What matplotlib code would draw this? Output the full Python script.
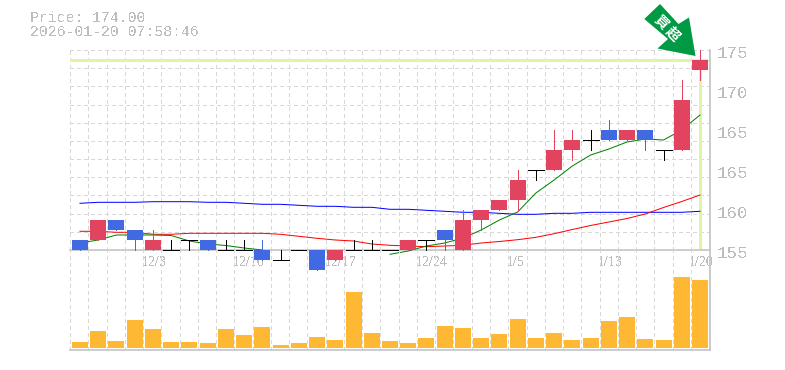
#!/usr/bin/env python3
# -*- coding: utf-8 -*-
import numpy as np
import matplotlib
matplotlib.use('Agg')
import matplotlib.pyplot as plt
from matplotlib.patches import Polygon, Rectangle

plt.rcParams['text.antialiased'] = False

# candles
opens = [156, 156, 158, 157, 155, 155, 156, 156, 155, 155, 155, 154, 155, 155, 154, 155, 155, 155,
         155, 156, 157, 155, 158, 159, 160, 163, 163, 165, 166, 167, 166, 167, 165, 165, 173]
closes = [155, 158, 157, 156, 156, 155, 156, 155, 155, 155, 154, 154, 155, 153, 155, 155, 155, 155,
          156, 156, 156, 158, 159, 160, 162, 163, 165, 166, 166, 166, 167, 166, 165, 170, 174]
highs = [156, 158, 158, 157, 157, 156, 156, 156, 156, 156, 156, 155, 155, 155, 155, 156, 156, 155,
         156, 156, 157, 159, 159, 160, 163, 163, 167, 167, 167, 168, 167, 167, 165, 172, 175]
lows = [155, 156, 157, 155, 155, 155, 155, 155, 155, 155, 154, 154, 155, 153, 154, 155, 155, 155,
        155, 155, 155, 155, 157, 159, 159, 162, 163, 164, 165, 166, 166, 165, 164, 165, 172]
volumes = [6, 17, 7, 28, 19, 6, 6, 5, 19, 13, 21, 3, 5, 11, 8, 56, 15, 7,
           5, 10, 22, 20, 10, 14, 29, 10, 15, 8, 10, 27, 31, 9, 8, 71, 68]

ma_short = [155.7, 156.0, 156.5, 156.5, 156.5, 156.45, 155.9, 155.6, 155.45, 155.2, 155.0,
            np.nan, np.nan, np.nan, np.nan, np.nan, np.nan,
            154.57, 154.9, 155.4, 155.7, 156.2, 157.0, 158.0, 158.8, 160.7, 162.0, 163.4,
            164.5, 165.1, 165.8, 166.1, 166.0, 167.0, 168.5]
ma_mid = [156.87, 156.87, 156.77, 156.77, 156.57, 156.57, 156.67, 156.67, 156.67, 156.67, 156.67,
          156.57, 156.37, 156.17, 156.0, 155.9, 155.6, 155.47, 155.4, 155.33, 155.4, 155.47,
          155.7, 155.85, 156.03, 156.27, 156.63, 157.05, 157.45, 157.8, 158.15, 158.6,
          159.25, 159.85, 160.5]
ma_long = [159.67, 159.77, 159.77, 159.77, 159.83, 159.83, 159.83, 159.77, 159.77, 159.67, 159.57,
           159.57, 159.47, 159.37, 159.37, 159.27, 159.27, 159.07, 159.07, 158.97, 158.87,
           158.77, 158.77, 158.67, 158.57, 158.57, 158.67, 158.67, 158.77, 158.77, 158.77,
           158.77, 158.77, 158.77, 158.87]

x_labels = ['12/3', '12/10', '12/17', '12/24', '1/5', '1/13', '1/20']
x_label_pos = [4, 9, 14, 19, 24, 29, 34]
y_ticks = [155, 159, 163, 167, 171, 175]
y_labels = ['155', '160', '165', '165', '170', '175']
last_price = 174

W, H = 785, 370
PX = 0.72  # one pixel in points at dpi 100
UP, DOWN, FLAT = '#e2435f', '#4169e1', '#000000'
GRID = '#d8d8d8'
AXIS = '#c4c4c4'
TEXT = '#bdbdbd'
LEVEL = '#e0f5a4'

fig = plt.figure(figsize=(W / 100, H / 100), dpi=100)
ax = fig.add_axes([70 / W, 1 - 250 / H, 640 / W, 200 / H])
axv = fig.add_axes([70 / W, 1 - 350 / H, 640 / W, 100 / H])

x = np.arange(len(closes))
xlim = (-0.548, 34.548)
grid_x = np.arange(36) * 18.26 / 18.235 - 0.548

for a in (ax, axv):
    a.set_xlim(*xlim)
    a.patch.set_alpha(0)
    a.set_xticks(grid_x)
    a.tick_params(length=0, labelbottom=False)
    a.grid(axis='x', color=GRID, lw=PX, ls=(0, (3, 3)), zorder=0, antialiased=False)
    a.set_axisbelow(True)
    for s in a.spines.values():
        s.set_visible(False)
    a.spines['right'].set_visible(True)
    a.spines['right'].set_color(AXIS)
    a.spines['right'].set_linewidth(1.2)
    a.spines['bottom'].set_visible(True)
    a.spines['bottom'].set_color(AXIS)
    a.spines['bottom'].set_linewidth(1.2)

ax.set_ylim(155, 175)
ax.set_yticks(np.linspace(155, 175, 12))
ax.grid(axis='y', color=GRID, lw=PX, ls=(0, (3, 3)), zorder=0, antialiased=False)
ax.set_yticklabels([])

# price scale text, real scale is 4 per step but the labels are rounded
for v, s in zip(y_ticks, y_labels):
    ax.annotate(s, (1, v), xycoords=('axes fraction', 'data'), xytext=(7, -3), textcoords='offset pixels',
                ha='left', va='center', color=TEXT, fontsize=12.6, family='Liberation Mono')
ax.text(30, 370 - 17.5, 'Price: %.2f' % last_price, transform=None, color=TEXT, fontsize=10.7,
        family='Liberation Mono', va='center', ha='left')
ax.text(30, 370 - 32.5, '2026-01-20 07:58:46', transform=None, color=TEXT, fontsize=10.7,
        family='Liberation Mono', va='center', ha='left')

for p, s in zip(x_label_pos, x_labels):
    ax.annotate(s, (p, 155), xycoords='data', xytext=(-11, -12), textcoords='offset pixels',
                ha='left', va='center', color=TEXT, fontsize=10, family='Liberation Serif',
                annotation_clip=False, zorder=1)

# last price marker lines
ax.axhline(last_price, color=LEVEL, lw=3 * PX, zorder=2)
ax.plot([34, 34], [155.1, last_price], color=LEVEL, lw=3 * PX, zorder=2, solid_capstyle='butt')

# moving averages
ax.plot(x, ma_long, color='#0000ff', lw=PX, zorder=3)
ax.plot(x, ma_mid, color='#ff0000', lw=PX, zorder=3)
ax.plot(x, ma_short, color='#008000', lw=PX, zorder=3, clip_on=False)

# candles, they run past the bottom of the pane
body_w = 16 / 18.235
for i in x:
    o, c, h, l = opens[i], closes[i], highs[i], lows[i]
    col = UP if c > o else DOWN if c < o else FLAT
    ax.plot([i, i], [l, h], color=col, lw=PX, clip_on=False, zorder=4, antialiased=False,
            solid_capstyle='butt')
    if c == o:
        ax.plot([i - body_w / 2, i + body_w / 2], [c, c], color=col, lw=PX, clip_on=False, zorder=4,
                antialiased=False, solid_capstyle='butt')
    else:
        ax.add_patch(Rectangle((i - body_w / 2, min(o, c)), body_w, abs(c - o), facecolor=col,
                               edgecolor='none', clip_on=False, zorder=5))

# volume
axv.set_ylim(-2.3, 98)
axv.set_yticks([])
axv.bar(x, volumes, width=body_w, color='#ffb833', zorder=3)

# arrow over the last candle, pixel outline
arrow_px = [(644.3, 19), (660, 4), (678.5, 24), (689, 17.5), (695.5, 56), (657.5, 48.5), (668, 39)]
fig.add_artist(Polygon([(px / W, 1 - py / H) for px, py in arrow_px], closed=True,
                       transform=fig.transFigure, facecolor='#009944', edgecolor='none', zorder=10))
plt.rcParams['text.antialiased'] = True
fig.text(661.7 / W, 1 - 21.7 / H, '買', color='white', fontsize=10, rotation=-45, ha='center', va='center',
         family=['Noto Sans CJK JP', 'DejaVu Sans'], fontweight='bold', zorder=11)
fig.text(672.3 / W, 1 - 34.3 / H, '超', color='white', fontsize=10, rotation=-45, ha='center', va='center',
         family=['Noto Sans CJK JP', 'DejaVu Sans'], fontweight='bold', zorder=11)

fig.savefig('out.png', dpi=100)
plt.close(fig)
